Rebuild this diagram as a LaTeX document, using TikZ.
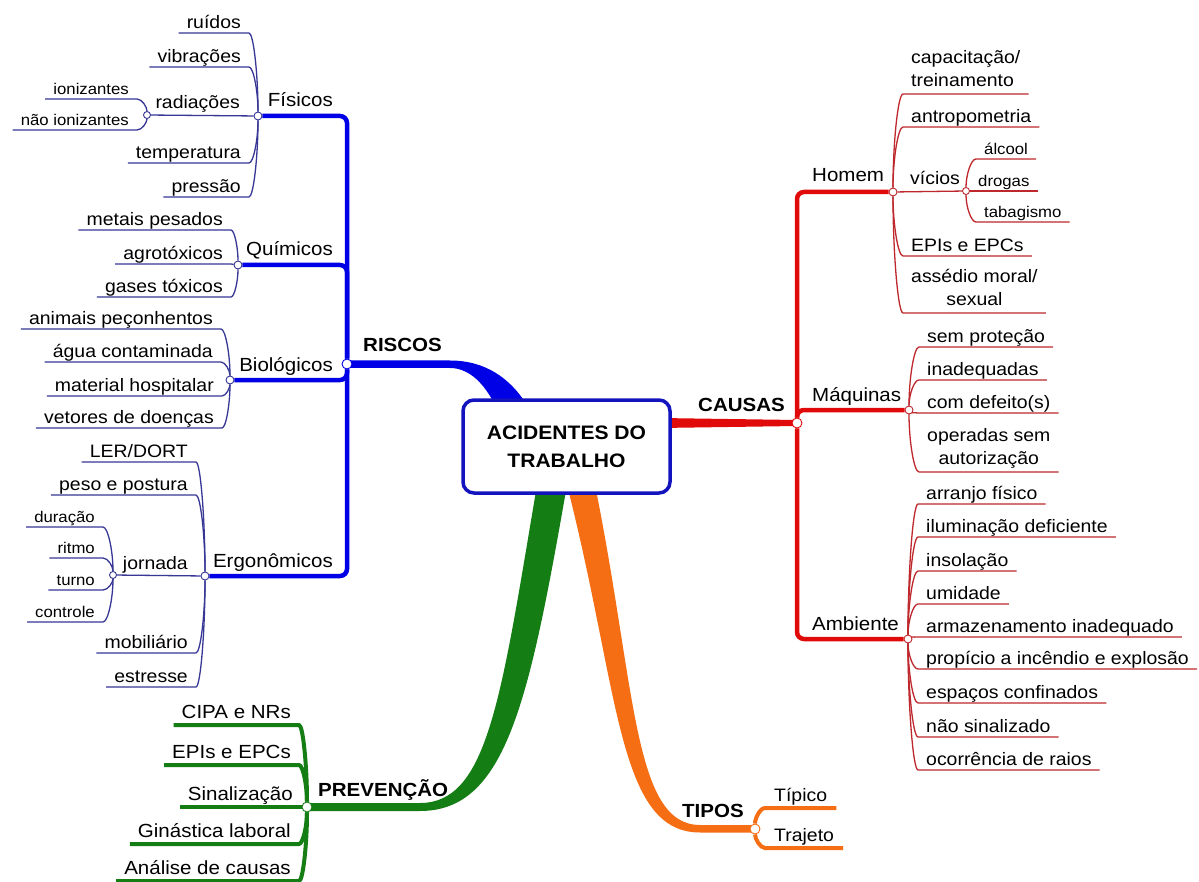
\documentclass[tikz,border=0pt]{standalone}
\usepackage{fontspec}
\setmainfont{Liberation Sans}[FakeStretch=1.08]
\usetikzlibrary{calc,backgrounds}
\definecolor{bmain}{RGB}{0,0,230}
\definecolor{bleaf}{RGB}{55,55,150}
\definecolor{rmain}{RGB}{225,10,10}
\definecolor{rleaf}{RGB}{190,40,45}
\definecolor{gmain}{RGB}{20,125,20}
\definecolor{omain}{RGB}{245,110,20}
\definecolor{boxc}{RGB}{20,20,190}
\newcommand\dstr{\rule[-4.5pt]{0pt}{0pt}}
\newcommand\mstr{\rule[-7pt]{0pt}{0pt}}
\newcommand\gstr{\rule[-6.5pt]{0pt}{0pt}}
\tikzset{
 leafbase/.style={inner xsep=8pt, inner ysep=0pt, font=\fontsize{18}{23}\selectfont, execute at end node=\dstr},
 leafL/.style={leafbase, anchor=south east},
 leafR/.style={leafbase, anchor=south west},
 smallfont/.style={font=\fontsize{15.5}{19}\selectfont},
 gleaf/.style={font=\fontsize{19}{23}\selectfont, execute at end node=\gstr},
 oleaf/.style={font=\fontsize{18}{23}\selectfont, execute at end node=\gstr, inner xsep=9pt},
 multi/.style={execute at end node=\mstr},
 lconn/.style={to path={.. controls ($(\tikztostart)!.5!(\tikztostart|-\tikztotarget)$) and ($(\tikztotarget)!.5!(\tikztostart|-\tikztotarget)$) .. (\tikztotarget)}},
 bthin/.style={draw=bleaf, line width=1.3pt, line join=round},
 rthin/.style={draw=rleaf, line width=1.3pt, line join=round},
 gthick/.style={draw=gmain, line width=4pt, line join=round},
 othick/.style={draw=omain, line width=4pt, line join=round},
 bmainln/.style={draw=bmain, line width=4.5pt, rounded corners=7pt},
 rmainln/.style={draw=rmain, line width=4.5pt, rounded corners=7pt},
 jn/.style={circle, fill=white, draw=#1, line width=0.9pt, minimum size=8pt, inner sep=0pt},
 mainlab/.style={font=\fontsize{19}{23}\selectfont\bfseries, anchor=base west, inner sep=0pt},
 midlab/.style={font=\fontsize{19}{23}\selectfont, inner sep=0pt},
 sublab/.style={font=\fontsize{18}{23}\selectfont, inner sep=0pt},
 rootbox/.style={draw=boxc, fill=white, line width=3.5pt, rounded corners=11pt, minimum width=207pt, minimum height=93pt, align=center, inner sep=0pt, font=\fontsize{19.5}{28}\selectfont\bfseries}
}
% left leaf: style, name, parent, position, text, line style
\newcommand\LL[6]{\node[leafL,#1] (#2) at (#4) {#5};
 \begin{scope}[on background layer]\draw[#6] (#3) to[lconn] (#2.south east) -- (#2.south west);\end{scope}}
\newcommand\LR[6]{\node[leafR,#1] (#2) at (#4) {#5};
 \begin{scope}[on background layer]\draw[#6] (#3) to[lconn] (#2.south west) -- (#2.south east);\end{scope}}
\begin{document}
\begin{tikzpicture}[x=1pt,y=-1pt]
\useasboundingbox (0,0) rectangle (1199,882);
% junctions
\node[jn=bmain, minimum size=10pt] (R) at (347,364) {};
\node[jn=bleaf] (F) at (258,116) {};
\node[jn=bleaf, minimum size=7pt] (Rad) at (147,115) {};
\node[jn=bleaf] (Q) at (238,265) {};
\node[jn=bleaf] (B) at (230,380) {};
\node[jn=bleaf] (E) at (205,576) {};
\node[jn=bleaf, minimum size=7pt] (J) at (113,575) {};
\node[jn=rmain, minimum size=10pt] (C) at (797,423) {};
\node[jn=rleaf] (H) at (893,192) {};
\node[jn=rleaf, minimum size=7pt] (V) at (966,191) {};
\node[jn=rleaf] (M) at (909,410) {};
\node[jn=rleaf] (A) at (908,639) {};
\node[jn=gmain, minimum size=10pt] (P) at (307,807) {};
\node[jn=omain, minimum size=10pt] (T) at (755,829) {};
% root
\node[rootbox] (root) at (566.5,446.5) {ACIDENTES DO\\TRABALHO};
% main labels
\node[mainlab] (lR) at (363,352) {RISCOS};
\node[mainlab] (lC) at (698,411) {CAUSAS};
\node[mainlab] (lP) at (318,796) {PREVENÇÃO};
\node[mainlab] (lT) at (682,817) {TIPOS};
% mid labels
\node[midlab, anchor=base east] (lF) at (333,107) {Físicos};
\node[midlab, anchor=base east] (lQ) at (333,256) {Químicos};
\node[midlab, anchor=base east] (lB) at (333,371) {Biológicos};
\node[midlab, anchor=base east] (lE) at (333,567) {Ergonômicos};
\node[midlab, anchor=base west] (lH) at (812,182) {Homem};
\node[midlab, anchor=base west] (lM) at (812,401) {Máquinas};
\node[midlab, anchor=base west] (lA) at (812,630) {Ambiente};
\node[sublab, anchor=base east] (lRad) at (240,109) {radiações};
\node[sublab, anchor=base east] (lJ) at (188,569) {jornada};
\node[sublab, anchor=base west] (lV) at (910,185) {vícios};
% background shapes
\begin{scope}[on background layer]
\fill[white] (0,0) rectangle (1199,882);
\fill[bmain] (350,360.5) -- (450,360.5) .. controls (485,360.5) and (510,378) .. (527,405) -- (495,405) .. controls (485,385) and (470,368) .. (450,368) -- (350,368) -- cycle;
\fill[rmain] (660,418) -- (797,420) -- (797,426) -- (660,428) -- cycle;
\fill[gmain] (307,803) -- (420,803) .. controls (488,803) and (501,698) .. (537,485) -- (567,485) .. controls (529,702) and (506,811) .. (420,811) -- (307,811) -- cycle;
\fill[omain] (567,485) .. controls (620,692) and (617,832.5) .. (700,832.5) -- (755,832.5) -- (755,825) -- (700,825) .. controls (633,825) and (636,688) .. (595,485) -- cycle;
\draw[bmainln] (R) |- (F);
\draw[bmainln] (R) |- (Q);
\draw[bmainln] (R) |- (B);
\draw[bmainln] (R) |- (E);
\draw[rmainln] (C) |- (H);
\draw[rmainln] (C) |- (M);
\draw[rmainln] (C) |- (A);
\draw[bthin] (F) -- (Rad);
\draw[bthin] (E) -- (J);
\draw[rthin] (H) -- (V);
\end{scope}
% Fisicos
\LL{}{ruidos}{F}{249,33}{ruídos}{bthin}
\LL{}{vibr}{F}{249,67}{vibrações}{bthin}
\LL{smallfont}{ioniz}{Rad}{137,99}{ionizantes}{bthin}
\LL{smallfont}{nioniz}{Rad}{137,130}{não ionizantes}{bthin}
\LL{}{temp}{F}{249,163}{temperatura}{bthin}
\LL{}{press}{F}{249,197}{pressão}{bthin}
% Quimicos
\LL{}{metais}{Q}{231,230}{metais pesados}{bthin}
\node[leafL] (agro) at (231,264) {agrotóxicos};
\begin{scope}[on background layer]\draw[bthin] (Q) -- (agro.south east) -- (agro.south west);\end{scope}
\LL{}{gases}{Q}{231,297}{gases tóxicos}{bthin}
% Biologicos
\LL{}{animais}{B}{221,329}{animais peçonhentos}{bthin}
\LL{}{agua}{B}{221,362}{água contaminada}{bthin}
\LL{}{material}{B}{222,396}{material hospitalar}{bthin}
\LL{}{vetores}{B}{222,428}{vetores de doenças}{bthin}
% Ergonomicos
\LL{}{ler}{E}{196,462}{LER/DORT}{bthin}
\LL{}{peso}{E}{196,495}{peso e postura}{bthin}
\LL{smallfont}{duracao}{J}{103,527}{duração}{bthin}
\LL{smallfont}{ritmo}{J}{103,558}{ritmo}{bthin}
\LL{smallfont}{turno}{J}{103,590}{turno}{bthin}
\LL{smallfont}{controle}{J}{103,622}{controle}{bthin}
\LL{}{mobil}{E}{196,653}{mobiliário}{bthin}
\LL{}{estresse}{E}{196,687}{estresse}{bthin}
% Prevencao
\LL{gleaf}{cipa}{P}{299,725}{CIPA e NRs}{gthick}
\LL{gleaf}{epig}{P}{299,765}{EPIs e EPCs}{gthick}
\node[leafL,gleaf] (sinal) at (301,807) {Sinalização};
\begin{scope}[on background layer]\draw[gthick] (P) -- (sinal.south east) -- (sinal.south west);\end{scope}
\LL{gleaf}{ginast}{P}{299,844}{Ginástica laboral}{gthick}
\LL{gleaf}{analise}{P}{299,881}{Análise de causas}{gthick}
% Homem
\LR{multi,align=left}{capac}{H}{903,94}{capacitação/\\treinamento}{rthin}
\LR{}{antrop}{H}{903,127}{antropometria}{rthin}
\LR{smallfont}{alcool}{V}{976,159}{álcool}{rthin}
\node[leafR,smallfont] (drogas) at (970,191) {drogas};
\begin{scope}[on background layer]\draw[rthin] (V) -- (drogas.south west) -- (drogas.south east);\end{scope}
\LR{smallfont}{tabag}{V}{976,222}{tabagismo}{rthin}
\LR{}{epir}{H}{903,256}{EPIs e EPCs}{rthin}
\LR{multi,align=center}{assedio}{H}{903,313}{assédio moral/\\sexual}{rthin}
% Maquinas
\LR{}{semprot}{M}{919,347}{sem proteção}{rthin}
\LR{}{inadeq}{M}{919,380}{inadequadas}{rthin}
\LR{}{defeito}{M}{919,413}{com defeito(s)}{rthin}
\LR{multi,align=center}{operadas}{M}{919,472}{operadas sem\\autorização}{rthin}
% Ambiente
\LR{}{arranjo}{A}{918,504}{arranjo físico}{rthin}
\LR{}{ilum}{A}{918,537}{iluminação deficiente}{rthin}
\LR{}{insol}{A}{918,571}{insolação}{rthin}
\LR{}{umid}{A}{918,604}{umidade}{rthin}
\LR{}{armaz}{A}{918,637}{armazenamento inadequado}{rthin}
\LR{}{propic}{A}{918,669}{propício a incêndio e explosão}{rthin}
\LR{}{espacos}{A}{918,703}{espaços confinados}{rthin}
\LR{}{naosin}{A}{918,737}{não sinalizado}{rthin}
\LR{}{ocorr}{A}{918,770}{ocorrência de raios}{rthin}
% Tipos
\LR{oleaf}{tipico}{T}{765,808}{Típico}{othick}
\LR{oleaf}{trajeto}{T}{765,848}{Trajeto}{othick}
\end{tikzpicture}
\end{document}
